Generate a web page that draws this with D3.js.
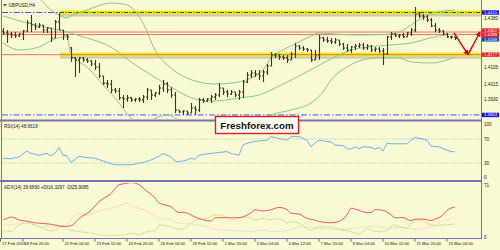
<!DOCTYPE html>
<html>
<head>
<meta charset="utf-8">
<script src="https://cdn.jsdelivr.net/npm/d3@7"></script>
<style>
  html, body { margin: 0; padding: 0; background: #f9f9d4; }
  svg { display: block; }
  text { font-family: "Liberation Sans", Arial, sans-serif; }
</style>
</head>
<body>
<svg id="chart" width="500" height="250"></svg>
<script>
// GBPUSD H4 bars (bar index 0..113)
const open = [1.4308,1.4297,1.4291,1.4286,1.4280,1.4291,1.4308,1.4352,1.4341,1.4330,1.4341,1.4313,1.4324,1.4269,1.4358,1.4313,1.4286,1.4214,1.4159,1.4148,
  1.4159,1.4148,1.4142,1.4125,1.4109,1.4059,1.4020,1.4015,1.3982,1.3976,1.3938,1.3932,1.3938,1.3927,1.3932,1.3927,1.3943,1.3982,1.3954,1.3965,
  1.3993,1.4015,1.3982,1.3954,1.3871,1.3860,1.3866,1.3855,1.3882,1.3871,1.3927,1.3921,1.3932,1.3943,1.3954,1.3993,1.3971,1.3960,1.3971,1.3954,
  1.3971,1.4026,1.4065,1.4076,1.4070,1.4059,1.4081,1.4114,1.4175,1.4170,1.4164,1.4159,1.4148,1.4181,1.4225,1.4214,1.4208,1.4203,1.4148,1.4175,
  1.4269,1.4258,1.4253,1.4247,1.4258,1.4236,1.4214,1.4203,1.4219,1.4225,1.4230,1.4214,1.4225,1.4203,1.4208,1.4197,1.4181,1.4275,1.4291,1.4280,
  1.4286,1.4275,1.4297,1.4313,1.4402,1.4391,1.4385,1.4369,1.4335,1.4313,1.4308,1.4291,1.4275,1.4275];
const high = [1.4324,1.4313,1.4302,1.4302,1.4297,1.4313,1.4369,1.4396,1.4352,1.4352,1.4341,1.4330,1.4324,1.4369,1.4407,1.4313,1.4291,1.4219,1.4164,1.4164,
  1.4164,1.4159,1.4148,1.4148,1.4131,1.4059,1.4037,1.4037,1.3993,1.3993,1.3954,1.3954,1.3943,1.3938,1.3943,1.3954,1.3993,1.3982,1.3971,1.4010,
  1.4037,1.4026,1.3998,1.3971,1.3871,1.3871,1.3866,1.3910,1.3893,1.3938,1.3938,1.3938,1.3954,1.3965,1.4020,1.3993,1.3982,1.3982,1.3971,1.3982,
  1.4037,1.4081,1.4092,1.4092,1.4092,1.4092,1.4125,1.4192,1.4186,1.4181,1.4175,1.4175,1.4192,1.4242,1.4230,1.4225,1.4214,1.4203,1.4203,1.4286,
  1.4275,1.4275,1.4269,1.4269,1.4258,1.4242,1.4236,1.4225,1.4236,1.4242,1.4242,1.4236,1.4230,1.4219,1.4219,1.4214,1.4280,1.4302,1.4297,1.4291,
  1.4297,1.4302,1.4324,1.4440,1.4413,1.4402,1.4396,1.4380,1.4352,1.4324,1.4313,1.4297,1.4280,1.4275];
const low = [1.4286,1.4242,1.4269,1.4269,1.4275,1.4258,1.4302,1.4302,1.4313,1.4324,1.4297,1.4297,1.4247,1.4269,1.4313,1.4258,1.4258,1.4137,1.4054,1.4076,
  1.4137,1.4131,1.4114,1.4092,1.4048,1.4010,1.3993,1.3965,1.3965,1.3927,1.3882,1.3916,1.3916,1.3916,1.3916,1.3910,1.3927,1.3927,1.3943,1.3954,
  1.3971,1.3965,1.3938,1.3855,1.3855,1.3844,1.3844,1.3855,1.3844,1.3860,1.3910,1.3916,1.3910,1.3927,1.3943,1.3954,1.3943,1.3954,1.3943,1.3927,
  1.3938,1.4020,1.4048,1.4054,1.4037,1.4026,1.4065,1.4114,1.4159,1.4148,1.4148,1.4131,1.4148,1.4159,1.4203,1.4197,1.4192,1.4137,1.4148,1.4148,
  1.4247,1.4242,1.4236,1.4236,1.4225,1.4203,1.4192,1.4186,1.4203,1.4214,1.4203,1.4203,1.4192,1.4192,1.4186,1.4120,1.4175,1.4258,1.4275,1.4269,
  1.4269,1.4275,1.4280,1.4302,1.4380,1.4369,1.4358,1.4330,1.4302,1.4297,1.4286,1.4269,1.4264,1.4258];
const close = [1.4297,1.4291,1.4286,1.4280,1.4291,1.4308,1.4352,1.4341,1.4330,1.4341,1.4313,1.4324,1.4269,1.4358,1.4313,1.4286,1.4275,1.4159,1.4148,1.4159,
  1.4148,1.4142,1.4125,1.4109,1.4059,1.4020,1.4015,1.3982,1.3976,1.3938,1.3932,1.3938,1.3927,1.3932,1.3927,1.3943,1.3982,1.3954,1.3965,1.3993,
  1.4015,1.3982,1.3954,1.3871,1.3860,1.3866,1.3855,1.3882,1.3871,1.3927,1.3921,1.3932,1.3943,1.3954,1.3993,1.3971,1.3960,1.3971,1.3954,1.3971,
  1.4026,1.4065,1.4076,1.4070,1.4059,1.4081,1.4114,1.4175,1.4170,1.4164,1.4159,1.4148,1.4181,1.4225,1.4214,1.4208,1.4203,1.4148,1.4175,1.4269,
  1.4258,1.4253,1.4247,1.4258,1.4236,1.4214,1.4203,1.4219,1.4225,1.4230,1.4214,1.4225,1.4203,1.4208,1.4197,1.4181,1.4275,1.4291,1.4280,1.4286,
  1.4275,1.4297,1.4313,1.4402,1.4391,1.4385,1.4369,1.4335,1.4313,1.4308,1.4291,1.4275,1.4275,1.4268];

// Bollinger bands, read as (bar index, price) points
const bbUpIdx = [9,12,15,16,17,21,27,30,32,35,38,42,46,49,53,57,62,65,67,70,74,77,79,83,89,97,100,102,106,109,113];
const bbUp = [1.4490,1.4424,1.4385,1.4380,1.4391,1.4424,1.4462,1.4457,1.4440,1.4352,1.4203,1.4103,1.4048,1.4026,1.4015,1.4020,1.4048,1.4092,1.4159,1.4203,
  1.4247,1.4280,1.4297,1.4291,1.4286,1.4291,1.4313,1.4341,1.4396,1.4413,1.4424];
const bbMidIdx = [0,8,14,21,27,32,37,42,46,49,53,59,64,67,74,82,87,94,102,109,113];
const bbMid = [1.4391,1.4341,1.4313,1.4269,1.4219,1.4137,1.4065,1.3998,1.3949,1.3927,1.3921,1.3938,1.3954,1.3982,1.4059,1.4153,1.4203,1.4225,1.4242,1.4280,1.4291];
const bbLowIdx = [0,4,9,13,16,17,21,25,28,32,34,37,41,44,49,57,63,67,72,77,80,82,86,90,94,99,102,107,111,113];
const bbLow = [1.4242,1.4203,1.4219,1.4264,1.4275,1.4175,1.4109,1.4010,1.3938,1.3827,1.3794,1.3816,1.3844,1.3816,1.3783,1.3772,1.3794,1.3844,1.3871,1.3910,
  1.3971,1.4037,1.4109,1.4148,1.4159,1.4159,1.4137,1.4131,1.4148,1.4164];

// RSI(14)
const rsiIdx = [0,2,4,5,6,7,9,11,12,13,14,15,16,17,19,21,23,26,28,32,35,37,39,40,41,42,43,44,46,47,48,49,52,56,57,59,60,61,63,66,67,69,71,72,74,76,77,78,79,82,
  83,85,86,87,88,89,90,92,93,94,95,96,97,99,101,102,103,104,105,106,107,109,110,112,113];
const rsi = [38,37,40,45,50,46,43,46,42,46,56,43,42,31,41,39,38,31,27,27,31,35,41,46,43,40,33,32,35,38,36,43,46,49,46,43,60,63,66,68,74,71,68,74,74,68,57,63,68,65,
  60,59,54,53,57,54,57,56,53,56,50,63,62,62,62,68,73,71,70,68,58,57,54,49,48.66];

// ADX(14), +DI, -DI
const adxIdx = [0,1,2,4,6,8,9,12,13,15,17,19,22,24,27,29,31,32,34,36,38,39,42,44,45,48,50,52,53,56,59,62,63,65,67,69,71,72,74,76,77,79,82,84,86,87,89,91,92,93,
  95,97,98,100,102,103,105,107,108,110,111,113];
const adx = [22,24,26,22,20,18,17.5,16,15,13,14,24,35,47,58,70,72,73,70,61,52,45,40,32,32.5,26,22,20.5,25,25,25,32,36,34,36,39,36,31,30,24,23,20,18,20,29,38,35,32,32,36,
  35,29,25,25,21,23,23,21,23,29,35,39.69];
const pdiIdx = [0,2,4,6,8,10,12,13,15,17,19,22,24,27,29,31,32,34,36,38,39,42,44,46,47,49,51,53,56,57,60,62,63,65,67,68,70,71,72,74,76,77,79,82,84,87,88,89,91,92,
  94,96,98,99,101,102,104,106,108,110,113];
const pdi = [8,6,15,17.5,15,10.5,7,8,14,8,6,4,1.5,1,1,2,4,1.5,6,7,15,12.5,9,12.5,17.5,23,24,29,26,22,26,24,22,24,22,24,21,17.5,19.5,17.5,10.5,8,12.5,12,9,6,4,2.5,10.5,8,
  6,8,15,12.5,10.5,17.5,22,17.5,14,15,16.33];
const mdiIdx = [0,2,4,6,8,10,12,15,17,19,21,24,26,29,31,32,34,37,39,42,44,47,51,53,56,59,62,65,67,69,72,74,77,79,82,85,88,91,94,97,100,102,104,107,110,113];
const mdi = [15,15,17.5,20,15,12.5,13.5,12.5,22,31,29,33.5,36.5,41,45,41,38,31,24,22,17.5,16.5,12.5,9,8,7,6,8,6,6,9,12.5,12,10.5,9,9,11,13,12,11,12,10,9,13,20,25.91];

// axis labels
const priceTicks = [1.4380, 1.4105, 1.4015, 1.3930];
const markPrices = [1.4410, 1.4302, 1.4288, 1.4268, 1.4177, 1.3844];
const markColors = ["#1414f0", "#f02020", "#f02020", "#2040b0", "#f02020", "#1414f0"];
const redLevels = [1.4302, 1.4288, 1.4177];
const zoneLevels = [1.4410, 1.4177];
const rsiTicks = [100, 70, 30, 0];
const adxTicks = [71, 0];
const dateIdx = [0, 5, 15, 23, 31, 39, 47, 55, 63, 71, 79, 87, 95, 103, 111];
const dateText = ["17 Feb 2016", "18 Feb 20:00", "22 Feb 04:00", "23 Feb 12:00", "24 Feb 20:00", "26 Feb 04:00", "29 Feb 12:00",
  "1 Mar 20:00", "3 Mar 04:00", "4 Mar 12:00", "7 Mar 20:00", "9 Mar 04:00", "10 Mar 12:00", "11 Mar 20:00", "15 Mar 04:00"];
// forecast arrow (bar index, price)
const arrowIdx = [112.75, 116.25, 119.25];
const arrowPrice = [1.4297, 1.4177, 1.4302];

const svg = d3.select("#chart");
const plotRight = 481;
const fs = 4.6;

const x = d3.scaleLinear().domain([0, 113]).range([3, 455]);
const y = d3.scaleLinear().domain([1.3816, 1.4479]).range([120, 0]);
const yR = d3.scaleLinear().domain([0, 100]).range([181, 121]);
const yA = d3.scaleLinear().domain([0, 71]).range([236, 184]);

const defs = svg.append("defs");
[["clipMain", 0, 119], ["clipRsi", 122, 58], ["clipAdx", 183, 55]].forEach(([id, top, h]) => {
  defs.append("clipPath").attr("id", id).append("rect")
    .attr("x", 2).attr("y", top).attr("width", plotRight - 2).attr("height", h);
});
defs.append("marker")
  .attr("id", "arrowhead")
  .attr("viewBox", "0 -5 10 10")
  .attr("refX", 8).attr("refY", 0)
  .attr("orient", "auto")
  .attr("markerWidth", 4).attr("markerHeight", 4)
  .append("path")
  .attr("d", "M0,-5 L10,0 L0,5 Z")
  .attr("fill", "#e00000");

svg.append("rect").attr("width", 500).attr("height", 250).attr("fill", "#f9f9d4");

// ---- main panel ----
const main = svg.append("g").attr("clip-path", "url(#clipMain)");

// level zones (yellow)
zoneLevels.forEach((p) => {
  const yy = y(p);
  main.append("rect").attr("x", 60).attr("y", yy + 1.5).attr("width", plotRight - 60).attr("height", 2.5)
    .attr("fill", "#b8b8a0").attr("opacity", 0.7);
  main.append("rect").attr("x", 60).attr("y", yy - 2).attr("width", plotRight - 60).attr("height", 3.8)
    .attr("fill", "#ecec1c");
});
main.append("line")
  .attr("x1", 60).attr("x2", plotRight).attr("y1", y(zoneLevels[0])).attr("y2", y(zoneLevels[0]))
  .attr("stroke", "#4a4a10").attr("stroke-width", 1).attr("stroke-dasharray", "4,1.5,1,1.5");

// blue dash-dot levels
main.append("line")
  .attr("x1", 2).attr("x2", 60).attr("y1", y(1.4410)).attr("y2", y(1.4410))
  .attr("stroke", "#5050f0").attr("stroke-width", 1).attr("stroke-dasharray", "6,2,1.5,2");
main.append("line")
  .attr("x1", 2).attr("x2", plotRight).attr("y1", y(1.3844)).attr("y2", y(1.3844))
  .attr("stroke", "#5050f0").attr("stroke-width", 1).attr("stroke-dasharray", "6,2,1.5,2");

// red levels
main.selectAll("line.red").data(redLevels).join("line")
  .attr("class", "red")
  .attr("x1", 2).attr("x2", plotRight)
  .attr("y1", (d) => y(d)).attr("y2", (d) => y(d))
  .attr("stroke", "#f07060").attr("stroke-width", 1);

// Bollinger bands
const bbLine = (idx, vals) => d3.line()
  .x((d, i) => x(idx[i]))
  .y((d) => y(d))
  .curve(d3.curveMonotoneX)(vals);
[[bbUpIdx, bbUp], [bbMidIdx, bbMid], [bbLowIdx, bbLow]].forEach(([idx, vals]) => {
  main.append("path").attr("d", bbLine(idx, vals))
    .attr("fill", "none").attr("stroke", "#88cc88").attr("stroke-width", 1);
});

// OHLC bars
const bars = main.append("g").attr("stroke", "#38382a").attr("stroke-width", 1.1);
close.forEach((c, i) => {
  const bx = Math.round(x(i)) + 0.5;
  bars.append("line").attr("x1", bx).attr("x2", bx).attr("y1", y(high[i])).attr("y2", y(low[i]));
  bars.append("line").attr("x1", bx - 1.5).attr("x2", bx).attr("y1", y(open[i])).attr("y2", y(open[i]));
  bars.append("line").attr("x1", bx).attr("x2", bx + 1.5).attr("y1", y(c)).attr("y2", y(c));
});

// forecast arrow
for (let k = 0; k < arrowIdx.length - 1; k++) {
  svg.append("line")
    .attr("x1", x(arrowIdx[k])).attr("y1", y(arrowPrice[k]))
    .attr("x2", x(arrowIdx[k + 1])).attr("y2", y(arrowPrice[k + 1]))
    .attr("stroke", "#e00000").attr("stroke-width", 1.4)
    .attr("marker-end", "url(#arrowhead)");
}

// title
svg.append("path").attr("d", "M3,4 L7,4 L5,6.5 Z").attr("fill", "#505060");
svg.append("text").attr("x", 8.5).attr("y", 7.2).attr("font-size", fs).attr("fill", "#202020").text("GBPUSD,H4");

// ---- RSI panel ----
const rsiG = svg.append("g").attr("clip-path", "url(#clipRsi)");
[70, 30].forEach((v) => {
  rsiG.append("line").attr("x1", 2).attr("x2", plotRight).attr("y1", yR(v)).attr("y2", yR(v))
    .attr("stroke", "#c8c8b0").attr("stroke-width", 1).attr("stroke-dasharray", "1.5,1.5");
});
rsiG.append("path")
  .attr("d", d3.line().x((d, i) => x(rsiIdx[i])).y((d) => yR(d))(rsi))
  .attr("fill", "none").attr("stroke", "#72b4ec").attr("stroke-width", 1);
svg.append("text").attr("x", 4).attr("y", 127.5).attr("font-size", fs).attr("fill", "#202020").text("RSI(14) 48.6618");

// ---- ADX panel ----
const adxG = svg.append("g").attr("clip-path", "url(#clipAdx)");
adxG.append("path")
  .attr("d", d3.line().x((d, i) => x(mdiIdx[i])).y((d) => yA(d)).curve(d3.curveMonotoneX)(mdi))
  .attr("fill", "none").attr("stroke", "#f2d2b4").attr("stroke-width", 1).attr("stroke-dasharray", "1.5,1");
adxG.append("path")
  .attr("d", d3.line().x((d, i) => x(pdiIdx[i])).y((d) => yA(d)).curve(d3.curveMonotoneX)(pdi))
  .attr("fill", "none").attr("stroke", "#bcd86a").attr("stroke-width", 1).attr("stroke-dasharray", "1.5,1");
adxG.append("path")
  .attr("d", d3.line().x((d, i) => x(adxIdx[i])).y((d) => yA(d)).curve(d3.curveMonotoneX)(adx))
  .attr("fill", "none").attr("stroke", "#f26060").attr("stroke-width", 1);
svg.append("text").attr("x", 4).attr("y", 188.5).attr("font-size", fs).attr("fill", "#202020")
  .text("ADX(14) 39.6890 +DI16.3297 -DI25.9085");

// ---- frame ----
const frame = "#7474b4";
svg.append("line").attr("x1", 1.5).attr("x2", 1.5).attr("y1", 0).attr("y2", 238).attr("stroke", frame).attr("stroke-width", 1);
svg.append("line").attr("x1", plotRight + 0.5).attr("x2", plotRight + 0.5).attr("y1", 0).attr("y2", 238).attr("stroke", frame).attr("stroke-width", 1);
svg.append("line").attr("x1", 0).attr("x2", plotRight + 1).attr("y1", 238.5).attr("y2", 238.5).attr("stroke", frame).attr("stroke-width", 1);
[120.5, 181].forEach((yy) => {
  svg.append("line").attr("x1", 0).attr("x2", plotRight + 1).attr("y1", yy).attr("y2", yy)
    .attr("stroke", frame).attr("stroke-width", 2);
});

// right price axis
const axisG = svg.append("g").attr("font-size", fs);
priceTicks.forEach((p) => {
  axisG.append("text").attr("x", 484).attr("y", y(p)).attr("dy", "0.35em").attr("fill", "#202020").text(p.toFixed(4));
});
// spread stacked marker labels so that their boxes do not collide
const boxH = 4.4;
const marks = markPrices.map((p, i) => ({ p, c: markColors[i], ly: y(p) })).sort((a, b) => a.ly - b.ly);
for (let iter = 0; iter < 20; iter++) {
  for (let k = 1; k < marks.length; k++) {
    const gap = marks[k].ly - marks[k - 1].ly;
    if (gap < boxH) {
      const push = (boxH - gap) / 2;
      marks[k - 1].ly -= push;
      marks[k].ly += push;
    }
  }
}
marks.forEach((m) => {
  axisG.append("rect").attr("x", 482).attr("y", m.ly - boxH / 2).attr("width", 17).attr("height", boxH).attr("fill", m.c);
  axisG.append("text").attr("x", 484).attr("y", m.ly).attr("dy", "0.35em").attr("font-size", 4.3)
    .attr("fill", "#ffffff").text(m.p.toFixed(4));
});
rsiTicks.forEach((v) => {
  const yy = Math.max(124, Math.min(177, yR(v)));
  axisG.append("text").attr("x", 484).attr("y", yy).attr("dy", "0.35em").attr("fill", "#202020").text(v);
});
adxTicks.forEach((v) => {
  axisG.append("text").attr("x", 484).attr("y", yA(v) + 1).attr("dy", "0.35em").attr("fill", "#202020").text(v);
});

// bottom date axis
dateIdx.forEach((d, i) => {
  const tx = i === 0 ? 0.5 : x(d);
  svg.append("line").attr("x1", tx).attr("x2", tx).attr("y1", 239).attr("y2", 241.5)
    .attr("stroke", "#303030").attr("stroke-width", 0.7);
  svg.append("text").attr("x", tx + 1.5).attr("y", 244.5).attr("font-size", 4.2).attr("fill", "#202020").text(dateText[i]);
});

// watermark
const wm = svg.append("g");
wm.append("rect").attr("x", 215.5).attr("y", 116.5).attr("width", 83).attr("height", 17)
  .attr("fill", "#fffff2").attr("stroke", "#e01c1c").attr("stroke-width", 1.4);
wm.append("text").attr("x", 257).attr("y", 128.6).attr("text-anchor", "middle")
  .attr("font-size", 9.8).attr("font-weight", "bold").attr("fill", "#111").text("Freshforex.com");
</script>
</body>
</html>
